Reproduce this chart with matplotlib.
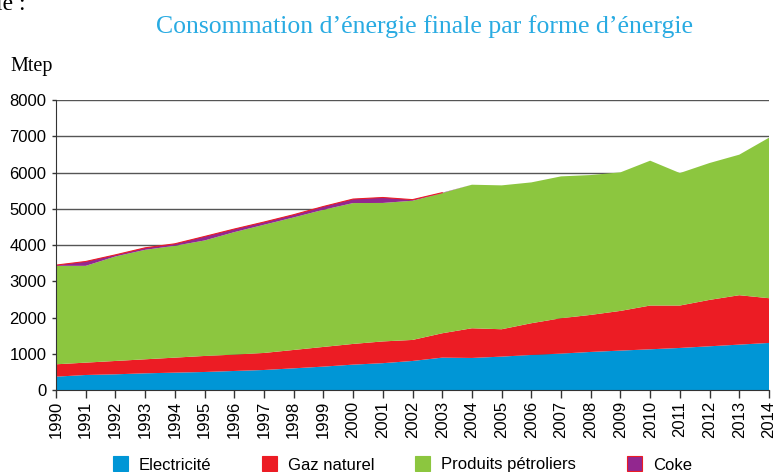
import matplotlib.pyplot as plt
from matplotlib.patches import Rectangle

annees = list(range(1990, 2015))
# cumuls (Mtep)
electricite = [368, 414, 433, 460, 479, 497, 525, 552, 598, 645, 700, 740,
               801, 893, 884, 921, 967, 1004, 1050, 1087, 1123, 1160, 1206, 1252, 1298]
cumul_gaz = [709, 755, 801, 847, 893, 939, 976, 1022, 1105, 1188, 1271, 1340,
             1381, 1565, 1703, 1676, 1842, 1980, 2072, 2182, 2330, 2330, 2486, 2615, 2532]
cumul_petrole = [3425, 3425, 3683, 3867, 3978, 4125, 4355, 4558, 4761, 4972, 5157, 5160,
                 5221, 5433, 5663, 5645, 5727, 5893, 5930, 6004, 6326, 5985, 6262, 6492, 6960]
coke = [20, 120, 45, 55, 55, 110, 85, 75, 75, 90, 110, 150,
        30, 10, 0, 0, 0, 0, 0, 0, 0, 0, 0, 0, 0]

gaz = [g - e for g, e in zip(cumul_gaz, electricite)]
petrole = [p - g for p, g in zip(cumul_petrole, cumul_gaz)]
total = [p + c for p, c in zip(cumul_petrole, coke)]

couleurs = ['#0096d6', '#ec1c24', '#8cc63f', '#92278f']
legende = ['Electricité', 'Gaz naturel', 'Produits pétroliers', 'Coke']

fig = plt.figure(figsize=(7.77, 4.72), dpi=100)
ax = fig.add_axes([56/777, 1 - 390/472, 713/777, 290/472])

ax.stackplot(annees, electricite, gaz, petrole, coke, colors=couleurs, linewidth=0)
# liseré rouge sur le coke, seulement tant qu'il y en a
n_coke = max(i for i, c in enumerate(coke) if c > 0) + 1
ax.plot(annees[:n_coke], total[:n_coke], color='#ec1c24', linewidth=0.8)

ax.set_xlim(1990, 2014)
ax.set_ylim(0, 8000)
ax.set_yticks(range(0, 8001, 1000))
ax.set_xticks(annees)
ax.set_xticklabels([str(a) for a in annees], rotation=90, fontsize=12,
                   fontfamily='Liberation Sans')
ax.set_yticklabels([str(v) for v in range(0, 8001, 1000)], fontsize=12,
                   fontfamily='Liberation Sans')
ax.grid(axis='y', color='#555555', linewidth=1)
ax.set_axisbelow(True)
for s in ['top', 'right']:
    ax.spines[s].set_visible(False)
ax.spines['left'].set_color('#333333')
ax.spines['bottom'].set_color('#333333')
ax.tick_params(axis='x', length=6, width=1, color='#333333', pad=2)
ax.tick_params(axis='y', length=3, width=1, color='#333333', pad=4)

fig.text((150 + 700) / 2 / 777, 1 - 27/472,
         'Consommation d\u2019énergie finale par forme d\u2019énergie',
         ha='center', va='center', color='#29abe2', fontsize=18.5,
         fontfamily='Liberation Serif')
fig.text(10/777, 1 - 67/472, 'Mtep', ha='left', va='center', fontsize=14.5,
         fontfamily='Liberation Serif')
fig.text(-4/777, 1 - 5/472, 'le :', ha='left', va='center', fontsize=17,
         fontfamily='Liberation Serif')

# légende en bas (coupée par le bord)
pos_x = [113, 262, 415, 627]
for x, c, lab in zip(pos_x, couleurs, legende):
    fig.patches.append(Rectangle((x/777, 1 - 471/472), 15/777, 15/472,
                                 transform=fig.transFigure, facecolor=c,
                                 edgecolor='#ec1c24' if lab == 'Coke' else c,
                                 linewidth=0.8))
    fig.text((x + 26)/777, 1 - 465/472, lab, ha='left', va='center', fontsize=12,
             fontfamily='Liberation Sans')

fig.savefig('out.png', dpi=100)
